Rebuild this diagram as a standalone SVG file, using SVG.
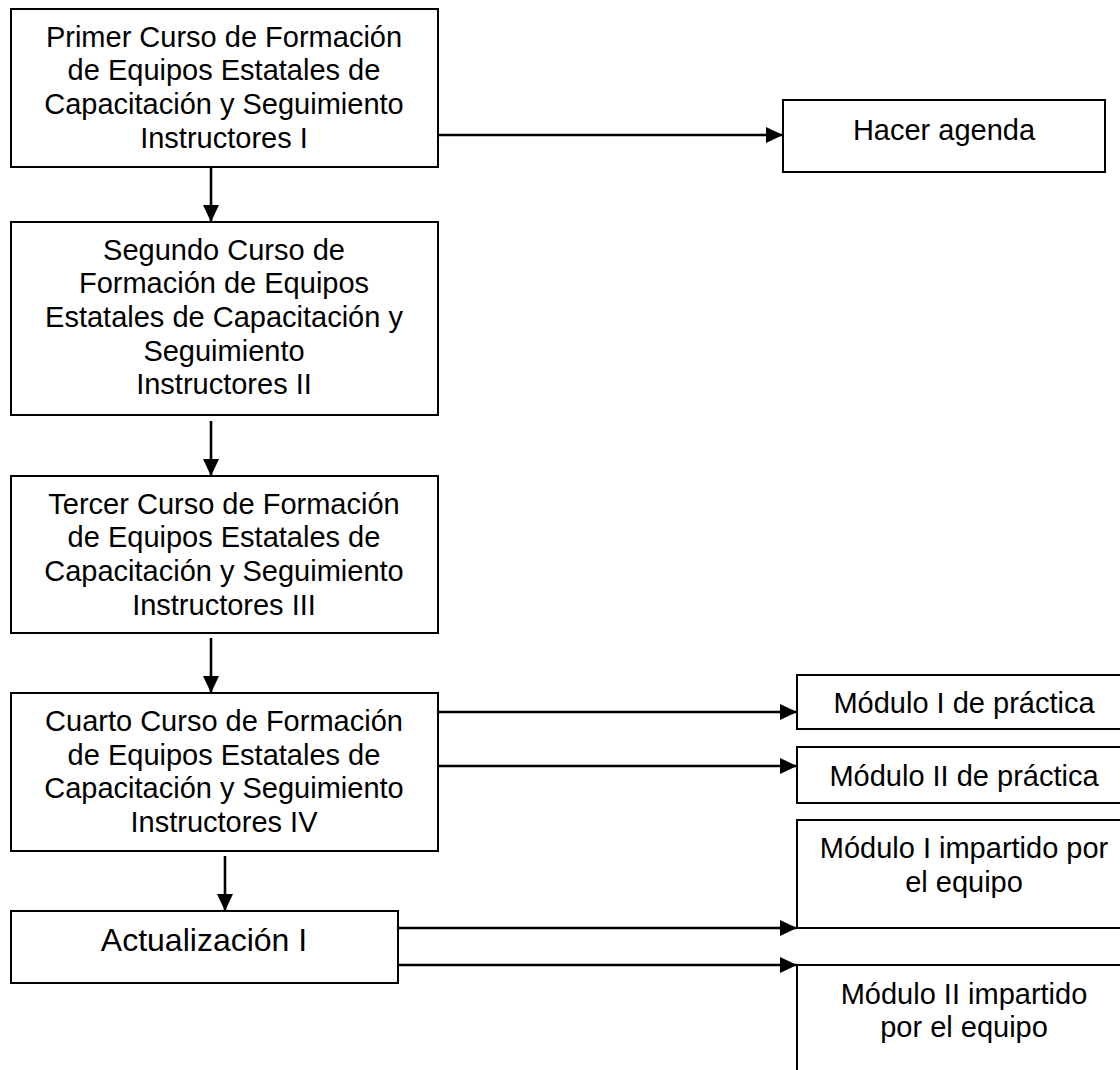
<svg xmlns="http://www.w3.org/2000/svg" width="1120" height="1070" viewBox="0 0 1120 1070">
<defs>
<style>
.box{fill:#fff;stroke:#000;stroke-width:2}
.t{font-family:"Liberation Sans",Arial,sans-serif;font-size:29px;fill:#000;text-anchor:middle}
.big{font-size:32px}
.c{stroke:#000;stroke-width:2.6;fill:none;marker-end:url(#ah)}
</style>
<marker id="ah" markerUnits="userSpaceOnUse" markerWidth="17" markerHeight="16" refX="17" refY="8" orient="auto" viewBox="0 0 17 16">
<path d="M0,0 L17,8 L0,16 z" fill="#000"/>
</marker>
</defs>
<rect width="1120" height="1070" fill="#fff"/>
<g id="connectors">
<line class="c" x1="211" y1="167" x2="211" y2="222"/>
<line class="c" x1="211" y1="421" x2="211" y2="476"/>
<line class="c" x1="211" y1="638" x2="211" y2="693"/>
<line class="c" x1="225" y1="856" x2="225" y2="911"/>
<line class="c" x1="438" y1="135" x2="783" y2="135"/>
<line class="c" x1="438" y1="712" x2="797" y2="712"/>
<line class="c" x1="438" y1="766" x2="797" y2="766"/>
<line class="c" x1="398" y1="928" x2="797" y2="928"/>
<line class="c" x1="398" y1="965" x2="797" y2="965"/>
</g>
<g id="n1">
<rect class="box" x="11" y="9" width="427" height="158"/>
<text class="t" x="224" y="47">Primer Curso de Formación</text>
<text class="t" x="224" y="80">de Equipos Estatales de</text>
<text class="t" x="224" y="114">Capacitación y Seguimiento</text>
<text class="t" x="224" y="147.5">Instructores I</text>
</g>
<g id="n2">
<rect class="box" x="11" y="222" width="427" height="193"/>
<text class="t" x="224" y="259.5">Segundo Curso de</text>
<text class="t" x="224" y="293">Formación de Equipos</text>
<text class="t" x="224" y="326.5">Estatales de Capacitación y</text>
<text class="t" x="224" y="360.5">Seguimiento</text>
<text class="t" x="224" y="394">Instructores II</text>
</g>
<g id="n3">
<rect class="box" x="11" y="476" width="427" height="157"/>
<text class="t" x="224" y="513.5">Tercer Curso de Formación</text>
<text class="t" x="224" y="547">de Equipos Estatales de</text>
<text class="t" x="224" y="580.5">Capacitación y Seguimiento</text>
<text class="t" x="224" y="614.5">Instructores III</text>
</g>
<g id="n4">
<rect class="box" x="11" y="693" width="427" height="158"/>
<text class="t" x="224" y="730.5">Cuarto Curso de Formación</text>
<text class="t" x="224" y="764.5">de Equipos Estatales de</text>
<text class="t" x="224" y="798">Capacitación y Seguimiento</text>
<text class="t" x="224" y="832">Instructores IV</text>
</g>
<g id="n5">
<rect class="box" x="11" y="911" width="387" height="72"/>
<text class="t big" x="204" y="951">Actualización I</text>
</g>
<g id="n6">
<rect class="box" x="783" y="100" width="322" height="72"/>
<text class="t" x="944" y="139.5">Hacer agenda</text>
</g>
<g id="n7">
<rect class="box" x="797" y="675" width="340" height="54"/>
<text class="t" x="964" y="712.5">Módulo I de práctica</text>
</g>
<g id="n8">
<rect class="box" x="797" y="747" width="340" height="56"/>
<text class="t" x="964" y="786">Módulo II de práctica</text>
</g>
<g id="n9">
<rect class="box" x="797" y="820" width="340" height="108"/>
<text class="t" x="964" y="857.5">Módulo I impartido por</text>
<text class="t" x="964" y="891.5">el equipo</text>
</g>
<g id="n10">
<rect class="box" x="797" y="965" width="340" height="130"/>
<text class="t" x="964" y="1003.5">Módulo II impartido</text>
<text class="t" x="964" y="1036.5">por el equipo</text>
</g>
</svg>
